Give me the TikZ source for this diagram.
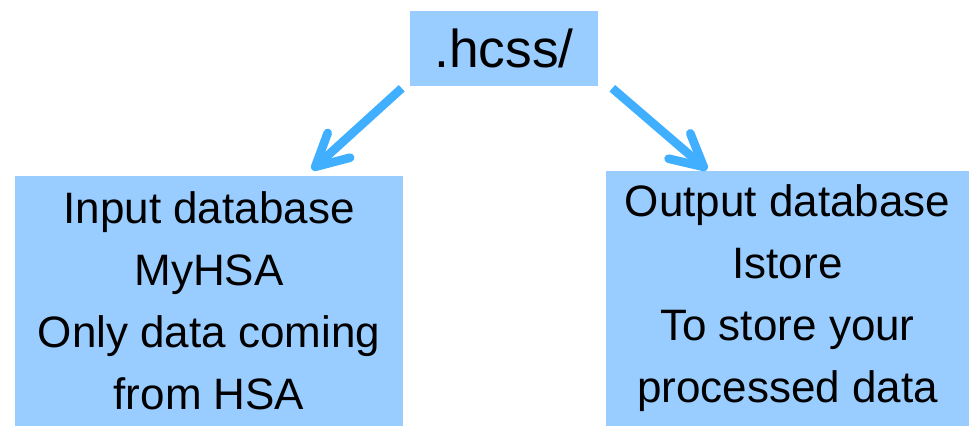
\documentclass[tikz,border=0pt]{standalone}
\usepackage{fontspec}
\setmainfont{Liberation Sans}
\usetikzlibrary{arrows.meta}
\definecolor{boxblue}{HTML}{99CCFF}
\definecolor{arrowblue}{HTML}{40AFFF}

\begin{document}
\begin{tikzpicture}[x=0.75pt,y=-0.75pt]
\tikzset{dbbox/.style={fill=boxblue, inner sep=0pt, align=center, font=\fontsize{33}{46.5}\selectfont},
  fleche/.style={draw=arrowblue, line width=6.5pt, -{Straight Barb[length=24pt,width=25pt,round]}}}
\useasboundingbox (0,0) rectangle (969,426);
\node[dbbox, minimum width=141pt, minimum height=56.25pt, font=\fontsize{40}{48}\selectfont] (hcss) at (504,48.5) {.hcss/};
\node[dbbox, minimum width=291pt, minimum height=187.5pt] (inbox) at (209,301) {Input database\\MyHSA\\Only data coming\\from HSA};
\node[dbbox, minimum width=272.25pt, minimum height=191.25pt] (outbox) at (787.5,298.5) {Output database\\Istore\\To store your\\processed data};
\draw[fleche] ([shift={(-8,2)}]hcss.south west) -- ([shift={(103,-6)}]inbox.north);
\draw[fleche] ([shift={(14,2)}]hcss.south east) -- ([shift={(-80.5,-1)}]outbox.north);
\end{tikzpicture}
\end{document}
